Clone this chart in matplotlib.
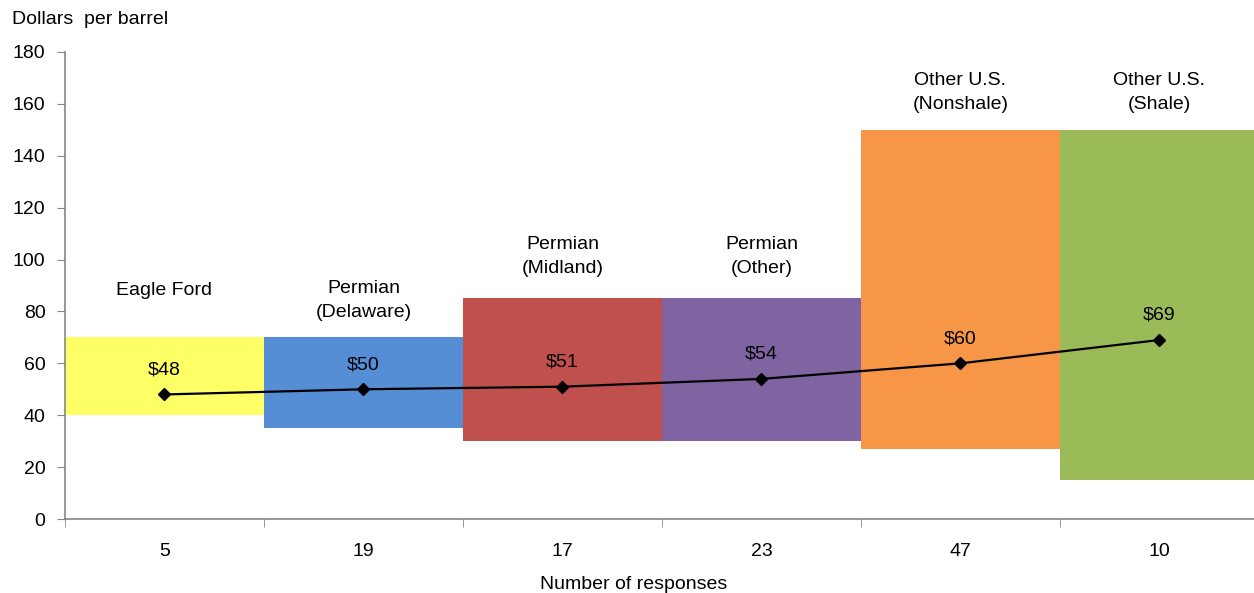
import numpy as np
import matplotlib.pyplot as plt

plt.rcParams['font.family'] = ['Liberation Sans', 'DejaVu Sans']

# Breakeven price ranges by region
regions = ['Eagle Ford', 'Permian\n(Delaware)', 'Permian\n(Midland)',
           'Permian\n(Other)', 'Other U.S.\n(Nonshale)', 'Other U.S.\n(Shale)']
responses = ['5', '19', '17', '23', '47', '10']
low = [40, 35, 30, 30, 27, 15]
high = [70, 70, 85, 85, 150, 150]
average = [48, 50, 51, 54, 60, 69]

colors = ['#FFFF66', '#558ED5', '#C0504D', '#8064A2', '#F79646', '#9BBB59']
label_pad = [38, 16, 21, 21, 17, 17]
fs = 14

x = np.arange(len(regions))

fig = plt.figure(figsize=(12.54, 5.93), dpi=100)
ax = fig.add_axes([65 / 1254, 1 - 519 / 593, 1194 / 1254, 467 / 593])

ax.bar(x, np.array(high) - np.array(low), bottom=low, width=1.0,
       color=colors, linewidth=0, zorder=1)

ax.plot(x, average, color='black', linewidth=1.6, marker='D', markersize=6,
        zorder=3)

for xi, v in zip(x, average):
    ax.annotate(f'${v}', (xi, v), xytext=(0, 16), textcoords='offset pixels',
                ha='center', va='bottom', fontsize=fs, zorder=4)

for xi, name, top, pad in zip(x, regions, high, label_pad):
    ax.annotate(name, (xi, top), xytext=(0, pad), textcoords='offset pixels',
                ha='center', va='bottom', fontsize=fs, linespacing=1.55)

ax.set_xlim(-0.5, len(regions) - 0.5)
ax.set_ylim(0, 180)
ax.set_yticks(np.arange(0, 181, 20))

ax.set_xticks(x)
ax.set_xticklabels(responses)
ax.set_xticks(np.arange(-0.5, len(regions) - 0.5, 1), minor=True)
ax.tick_params(axis='x', which='major', length=0, pad=17, labelsize=fs)
ax.tick_params(axis='x', which='minor', length=6, color='#868686')
ax.tick_params(axis='y', length=6, color='#868686', labelsize=fs, pad=8)
ax.set_xlabel('Number of responses', fontsize=fs)
ax.xaxis.set_label_coords((634 - 65) / 1194, -0.122)

for side in ['top', 'right']:
    ax.spines[side].set_visible(False)
for side in ['left', 'bottom']:
    ax.spines[side].set_color('#868686')
    ax.spines[side].set_linewidth(1.2)

fig.text(12 / 1254, 1 - 19 / 593, 'Dollars  per barrel', fontsize=fs,
         ha='left', va='center')

fig.savefig('out.png', dpi=100)
